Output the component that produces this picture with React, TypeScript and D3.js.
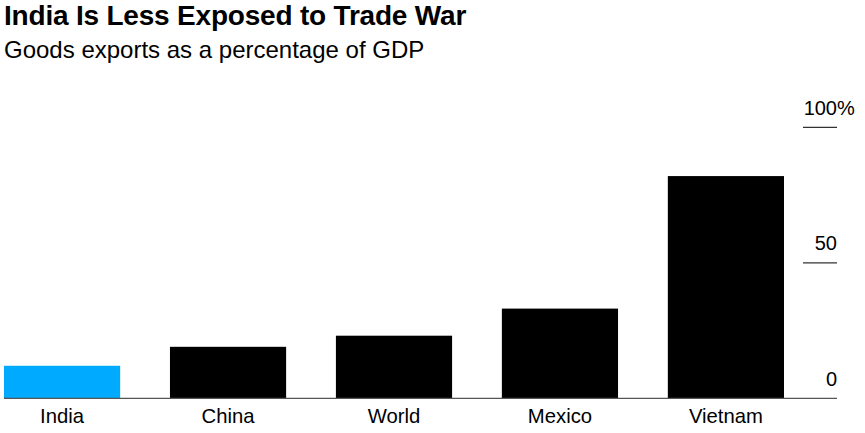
import React from "react";
import * as d3 from "d3";

const categories = ["India", "China", "World", "Mexico", "Vietnam"];
const values = [12.0, 19.0, 23.1, 33.1, 82.0];
const highlight = ["India"];
const yTicks = [0, 50, 100];

const W = 865;
const H = 433;
const FONT = "'Liberation Sans', Arial, Helvetica, sans-serif";

export default function App() {
  const x = d3.scaleBand<string>().domain(categories).range([4, 784]).paddingInner(0.3).paddingOuter(0);
  const y = d3.scaleLinear().domain([0, 100]).range([398.3, 127.3]);
  const tickX1 = 803;
  const tickX2 = 837;

  return (
    <svg width={W} height={H} style={{ position: "absolute", left: 0, top: 0, background: "#fff" }}>
      <text x={4} y={25} fontFamily={FONT} fontWeight="bold" fontSize={28} fill="#000" letterSpacing={-0.2}>
        India Is Less Exposed to Trade War
      </text>
      <text x={4} y={58} fontFamily={FONT} fontSize={24} fill="#000">
        Goods exports as a percentage of GDP
      </text>

      {categories.map((c, i) => (
        <rect
          key={c}
          x={x(c)}
          y={y(values[i])}
          width={x.bandwidth()}
          height={y(0) - y(values[i])}
          fill={highlight.includes(c) ? "#00aaff" : "#000"}
        />
      ))}

      {yTicks.filter((t) => t !== 0).map((t) => (
        <line key={t} x1={tickX1} x2={tickX2} y1={y(t)} y2={y(t)} stroke="#333" strokeWidth={1.2} />
      ))}
      <line x1={4} x2={tickX2} y1={y(0)} y2={y(0)} stroke="#555" strokeWidth={1.3} />

      {yTicks.map((t) => (
        <g key={"l" + t}>
          <text x={tickX2} y={y(t) - 12.5} textAnchor="end" fontFamily={FONT} fontSize={20} fill="#000">
            {String(t)}
          </text>
          {t === 100 && (
            <text x={tickX2} y={y(t) - 12.5} textAnchor="start" fontFamily={FONT} fontSize={20} fill="#000">
              %
            </text>
          )}
        </g>
      ))}

      {categories.map((c) => (
        <text
          key={"c" + c}
          x={(x(c) as number) + x.bandwidth() / 2}
          y={423}
          textAnchor="middle"
          fontFamily={FONT}
          fontSize={20.3}
          fill="#000"
        >
          {c}
        </text>
      ))}
    </svg>
  );
}
